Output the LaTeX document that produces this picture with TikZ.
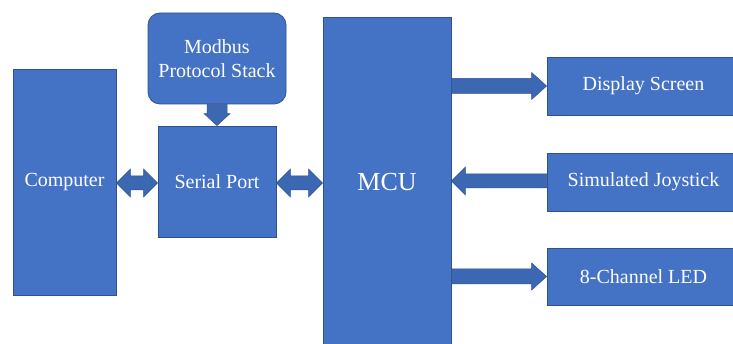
\documentclass[tikz,border=0pt]{standalone}
\usepackage{fontspec}
\setmainfont{Liberation Serif}
\newfontfamily\tnrfont{Liberation Serif}
\usetikzlibrary{calc}
\definecolor{boxc}{HTML}{4472C4}
\definecolor{bordc}{HTML}{2F528F}
\definecolor{arrowc}{HTML}{3C67B3}
% right-pointing fat arrow: #1 start, #2 tip, #3 half shaft, #4 half head, #5 head length
\newcommand{\fatR}[5]{%
  \filldraw[fatarr] ($(#1)+(0,#3)$) -- ($(#2)+(-#5,#3)$) -- ($(#2)+(-#5,#4)$) -- (#2)
    -- ($(#2)+(-#5,-#4)$) -- ($(#2)+(-#5,-#3)$) -- ($(#1)+(0,-#3)$) -- cycle;}
\newcommand{\fatL}[5]{%
  \filldraw[fatarr] ($(#1)+(0,#3)$) -- ($(#2)+(#5,#3)$) -- ($(#2)+(#5,#4)$) -- (#2)
    -- ($(#2)+(#5,-#4)$) -- ($(#2)+(#5,-#3)$) -- ($(#1)+(0,-#3)$) -- cycle;}
\newcommand{\fatD}[5]{%
  \filldraw[fatarr] ($(#1)+(#3,0)$) -- ($(#2)+(#3,-#5)$) -- ($(#2)+(#4,-#5)$) -- (#2)
    -- ($(#2)+(-#4,-#5)$) -- ($(#2)+(-#3,-#5)$) -- ($(#1)+(-#3,0)$) -- cycle;}
\newcommand{\fatLR}[5]{%
  \filldraw[fatarr] (#1) -- ($(#1)+(#5,#4)$) -- ($(#1)+(#5,#3)$) -- ($(#2)+(-#5,#3)$)
    -- ($(#2)+(-#5,#4)$) -- (#2) -- ($(#2)+(-#5,-#4)$) -- ($(#2)+(-#5,-#3)$)
    -- ($(#1)+(#5,-#3)$) -- ($(#1)+(#5,-#4)$) -- cycle;}
\begin{document}
\begin{tikzpicture}[x=1pt,y=-1pt,
  box/.style={draw=bordc, fill=boxc, line width=0.8pt, text=white,
    font=\tnrfont\fontsize{20}{24}\selectfont, inner sep=0pt, align=center},
  fatarr/.style={fill=arrowc, draw=bordc, line width=0.5pt, line join=miter}]
\clip (0,0) rectangle (733,344);
\fill[white] (0,0) rectangle (733,344);
\node[box, minimum width=103pt, minimum height=226pt] (comp) at (64.5,182) {Computer};
\node[box, minimum width=138pt, minimum height=91pt, rounded corners=12pt] (modbus) at (217,58.5) {Modbus\\Protocol Stack};
\node[box, minimum width=118pt, minimum height=111pt] (serial) at (217,181.5) {Serial Port};
\node[box, minimum width=128pt, minimum height=340pt] (mcu) at (387,187) {};
\node[text=white, font=\tnrfont\fontsize{26}{30}\selectfont] (mcut) at (387,182) {MCU};
\node[box, minimum width=193pt, minimum height=58pt] (disp) at (643.5,86) {Display Screen};
\node[box, minimum width=193pt, minimum height=58pt] (joy) at (643.5,182) {Simulated Joystick};
\node[box, minimum width=193pt, minimum height=57pt] (led) at (643.5,276.5) {8-Channel LED};
% connectors
\fatD{modbus.south}{serial.north}{10}{13}{12}
\coordinate (c1) at ($(comp.east)+(0,1)$);
\coordinate (c2) at ($(serial.west)+(0,1.5)$);
\fatLR{c1}{c2}{7}{14}{14}
\coordinate (s1) at ($(serial.east)+(0,1.5)$);
\coordinate (s2) at (mcu.west |- s1);
\fatLR{s1}{s2}{7}{14}{14}
\coordinate (d1) at (mcu.east |- disp.west);
\fatR{d1}{disp.west}{7.5}{13.5}{15}
\coordinate (j1) at ($(joy.west)+(0,-1)$);
\coordinate (j2) at (mcu.east |- j1);
\fatL{j1}{j2}{7}{14}{14}
\coordinate (l1) at (mcu.east |- led.west);
\fatR{l1}{led.west}{7.5}{13.5}{15}
\end{tikzpicture}
\end{document}
